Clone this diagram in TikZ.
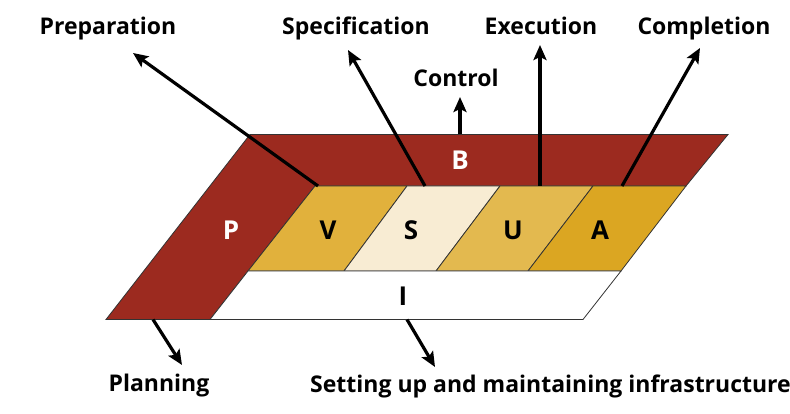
\documentclass[tikz,border=0pt]{standalone}
\usepackage{fontspec}
\setmainfont{Open Sans}
\usetikzlibrary{arrows.meta}
\definecolor{brick}{HTML}{9C2A1F}
\definecolor{goldV}{HTML}{E1B13C}
\definecolor{creamS}{HTML}{F8ECD3}
\definecolor{goldU}{HTML}{E3B94F}
\definecolor{goldA}{HTML}{DBA622}
\tikzset{
  panel/.style={draw=black!80, line width=0.8pt, line join=miter},
  phase/.style={font=\fontsize{23}{23}\selectfont\bfseries, inner sep=0pt},
  letter/.style={font=\fontsize{26}{26}\selectfont\bfseries, inner sep=0pt},
  pointer/.style={line width=3.2pt, -{Stealth[length=15pt,width=13pt,inset=3pt]}}
}
\begin{document}
\begin{tikzpicture}[x=1pt,y=-1pt]
\useasboundingbox (0,0) rectangle (790,414);
% planning / control band (L shape)
\fill[brick] (106,319.5) -- (250,134.5) -- (728,134.5) -- (686,186) -- (315,186) -- (210,319.5) -- cycle;
\draw[panel] (106,319.5) -- (250,134.5) -- (728,134.5) -- (686,186) -- (315,186) -- (210,319.5) -- cycle;
% project phases
\draw[panel, fill=goldV]  (315,186) -- (407,186) -- (344,271) -- (248,271) -- cycle;
\draw[panel, fill=creamS] (407,186) -- (500,186) -- (436,271) -- (344,271) -- cycle;
\draw[panel, fill=goldU]  (500,186) -- (593,186) -- (528,271) -- (436,271) -- cycle;
\draw[panel, fill=goldA]  (593,186) -- (686,186) -- (621,271) -- (528,271) -- cycle;
% infrastructure band
\draw[panel, fill=white]  (248,271) -- (621,271) -- (583,319.5) -- (210,319.5) -- cycle;

% band letters
\node[letter, text=white] (lP) at (231,230) {P};
\node[letter, text=white] (lB) at (460,160) {B};
\node[letter] (lV) at (328,230) {V};
\node[letter] (lS) at (411,230) {S};
\node[letter] (lU) at (513,230) {U};
\node[letter] (lA) at (600,230) {A};
\node[letter] (lI) at (403,296) {I};

% outer labels
\node[phase, anchor=base] (prep) at (108,35) {Preparation};
\node[phase, anchor=base] (spec) at (356,35) {Specification};
\node[phase, anchor=base] (exec) at (541,35) {Execution};
\node[phase, anchor=base] (comp) at (704,35) {Completion};
\node[phase, anchor=base] (ctrl) at (456,87) {Control};
\node[phase, anchor=base] (plan) at (159,391) {Planning};
\node[phase, anchor=base west] (infra) at (310,392) {Setting up and maintaining infrastructure};

% pointer ends
\coordinate (prepS) at (318,186);  \coordinate (prepT) at (133,53);
\coordinate (specS) at (425,186);  \coordinate (specT) at (348,50);
\coordinate (ctrlS) at (460,134.5);\coordinate (ctrlT) at (460,97);
\coordinate (execS) at (540,186);  \coordinate (execT) at (540,45);
\coordinate (compS) at (622,186);  \coordinate (compT) at (700,48);
\coordinate (planS) at (153,319.5);\coordinate (planT) at (182,365);
\coordinate (infS)  at (407,319.5);\coordinate (infT)  at (435,367);

\draw[pointer] (prepS) -- (prepT);
\draw[pointer] (specS) -- (specT);
\draw[pointer] (ctrlS) -- (ctrlT);
\draw[pointer] (execS) -- (execT);
\draw[pointer] (compS) -- (compT);
\draw[pointer] (planS) -- (planT);
\draw[pointer] (infS) -- (infT);
\end{tikzpicture}
\end{document}
